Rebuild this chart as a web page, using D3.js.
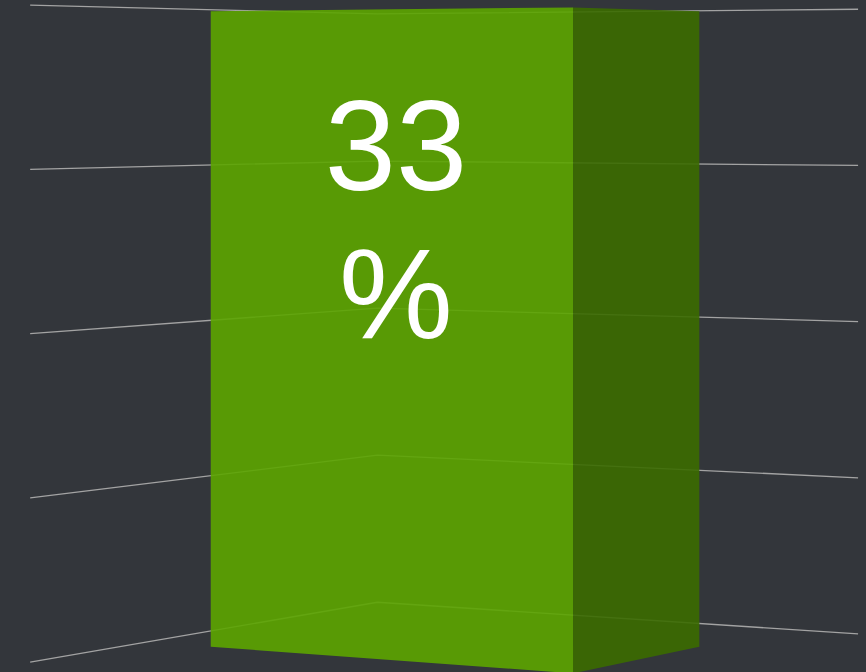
<!DOCTYPE html>
<html>
<head>
<meta charset="utf-8">
<script src="https://cdn.jsdelivr.net/npm/d3@7"></script>
<style>
  html, body { margin: 0; padding: 0; background: #33363b; overflow: hidden; }
  svg { display: block; }
</style>
</head>
<body>
<svg id="chart"></svg>
<script>
const width = 866;
const height = 672;

// chart data
const categories = ["Share"];
const values = [33];
const gridTicks = [0, 8.3, 16.6, 24.9, 33.2];

// 3d box of the plot area (world units) and the camera looking into its back corner
const plot = { w: 534, d: 585, h: 588 };
const yaw = 31.42 * Math.PI / 180;
const cam = { x: 2538, y: 512, z: -3463, f: 4780, cx: 433, cy: 90 };

const svg = d3.select("#chart")
    .attr("width", width)
    .attr("height", height);

svg.append("rect")
    .attr("width", width)
    .attr("height", height)
    .attr("fill", "#33363b");

const yScale = d3.scaleLinear()
    .domain([0, 33.2])
    .range([0, plot.h]);

const xScale = d3.scaleBand()
    .domain(categories)
    .range([0, plot.w])
    .padding(0.164)
    .align(0.48);

const zScale = d3.scaleLinear()
    .domain([0, 1])
    .range([0, plot.d]);

// perspective projection of a world point [x, y, z] to the screen
function project([x, y, z]) {
  const dx = x - cam.x, dz = z - cam.z;
  const xc = dx * Math.cos(yaw) + dz * Math.sin(yaw);
  const zc = -dx * Math.sin(yaw) + dz * Math.cos(yaw);
  return [cam.cx + cam.f * xc / zc, cam.cy - cam.f * (y - cam.y) / zc];
}

const line = d3.line().x(d => project(d)[0]).y(d => project(d)[1]);

// grid lines on the side wall and the back wall
svg.append("g")
  .selectAll("path")
  .data(gridTicks)
  .join("path")
    .attr("d", t => {
      const y = yScale(t);
      return line([[0, y, 0], [0, y, plot.d], [plot.w, y, plot.d]]);
    })
    .attr("fill", "none")
    .attr("stroke", "#a3a3a3")
    .attr("stroke-width", 1.3);

// the columns: right side face and front face
const cols = categories.map((c, i) => {
  const x0 = xScale(c), x1 = x0 + xScale.bandwidth();
  const z0 = zScale(0.31), z1 = zScale(0.71);
  const top = yScale(values[i]);
  return { x0, x1, z0, z1, top, value: values[i] };
});

const colG = svg.append("g");

colG.selectAll("path.side")
  .data(cols)
  .join("path")
    .attr("class", "side")
    .attr("d", d => line([[d.x1, 0, d.z0], [d.x1, 0, d.z1], [d.x1, d.top, d.z1], [d.x1, d.top, d.z0]]) + "Z")
    .attr("fill", "#3b6b00")
    .attr("fill-opacity", 0.9);

colG.selectAll("path.front")
  .data(cols)
  .join("path")
    .attr("class", "front")
    .attr("d", d => line([[d.x0, 0, d.z0], [d.x1, 0, d.z0], [d.x1, d.top, d.z0], [d.x0, d.top, d.z0]]) + "Z")
    .attr("fill", "#5ca500")
    .attr("fill-opacity", 0.9);

// data labels, wrapped on two lines
const labelG = svg.append("g");
cols.forEach(d => {
  const a = project([d.x0, d.top, d.z0]);
  const b = project([d.x1, d.top, d.z0]);
  const cx = (a[0] + b[0]) / 2 + 4;
  const parts = `${d.value} %`.split(" ");
  labelG.append("text")
      .attr("x", cx)
      .attr("y", 190)
      .attr("text-anchor", "middle")
      .attr("fill", "#ffffff")
      .attr("font-family", "'Liberation Sans', Arial, sans-serif")
      .attr("font-size", 128)
    .selectAll("tspan")
    .data(parts)
    .join("tspan")
      .attr("x", cx)
      .attr("dy", (p, i) => i === 0 ? 0 : 148)
      .text(p => p);
});
</script>
</body>
</html>
